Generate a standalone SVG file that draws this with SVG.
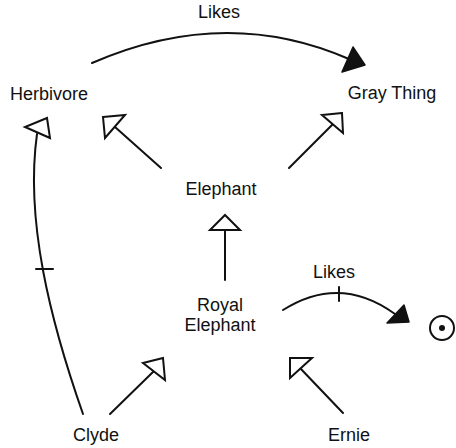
<svg xmlns="http://www.w3.org/2000/svg" width="456" height="448" viewBox="0 0 456 448">
<style>
  .lbl { font-family: "Liberation Sans", Arial, Helvetica, sans-serif; font-size: 18px; fill: #111; text-anchor: middle; }
  .ln { fill: none; stroke: #111; stroke-width: 2; stroke-linecap: round; }
  .hollow { fill: #fff; stroke: #111; stroke-width: 2; stroke-linejoin: miter; }
  .solid { fill: #111; stroke: #111; stroke-width: 1.5; stroke-linejoin: round; }
</style>
<rect width="456" height="448" fill="#fff"/>
<g id="connectors">
  <!-- Herbivore Likes Gray Thing -->
  <path class="ln" d="M92,63 Q225,5 349,59"/>
  <polygon class="solid" points="353,47 365,65 342,72"/>
  <text class="lbl" x="219" y="18">Likes</text>
  <!-- Elephant -> Herbivore -->
  <line class="ln" x1="161" y1="168" x2="115" y2="127"/>
  <polygon class="hollow" points="103,117 125,115 105,138"/>
  <!-- Elephant -> Gray Thing -->
  <line class="ln" x1="289" y1="168" x2="333" y2="124"/>
  <polygon class="hollow" points="342,113 322,115 343,133"/>
  <!-- Royal Elephant -> Elephant -->
  <line class="ln" x1="225" y1="280" x2="225" y2="230"/>
  <polygon class="hollow" points="225,215 210,230 240,230"/>
  <!-- Clyde -> Royal Elephant -->
  <line class="ln" x1="110" y1="414" x2="154" y2="371"/>
  <polygon class="hollow" points="163,358 143,363 165,380"/>
  <!-- Ernie -> Royal Elephant -->
  <line class="ln" x1="343" y1="413" x2="300" y2="368"/>
  <polygon class="hollow" points="290,358 312,358 290,378"/>
  <!-- Clyde -> Herbivore -->
  <path class="ln" d="M83,414 C50,320 25,220 37,134"/>
  <polygon class="hollow" points="47,118 25,127 50,138"/>
  <line class="ln" x1="36" y1="269" x2="53" y2="269"/>
  <!-- Royal Elephant Likes individual -->
  <path class="ln" d="M283,310 Q340,274 395,314"/>
  <polygon class="solid" points="404,305 409,322 387,323"/>
  <line class="ln" x1="339" y1="287" x2="339" y2="301"/>
  <text class="lbl" x="334" y="278">Likes</text>
</g>
<g id="node-herbivore"><text class="lbl" x="49" y="100">Herbivore</text></g>
<g id="node-graything"><text class="lbl" x="392" y="99">Gray Thing</text></g>
<g id="node-elephant"><text class="lbl" x="221" y="195">Elephant</text></g>
<g id="node-royalelephant"><text class="lbl" x="220" y="311">Royal</text><text class="lbl" x="220" y="331">Elephant</text></g>
<g id="node-clyde"><text class="lbl" x="96" y="441">Clyde</text></g>
<g id="node-ernie"><text class="lbl" x="349" y="441">Ernie</text></g>
<g id="node-individual">
  <circle cx="442" cy="328" r="12" fill="#fff" stroke="#111" stroke-width="2"/>
  <circle cx="442" cy="328" r="3" fill="#111"/>
</g>
</svg>
